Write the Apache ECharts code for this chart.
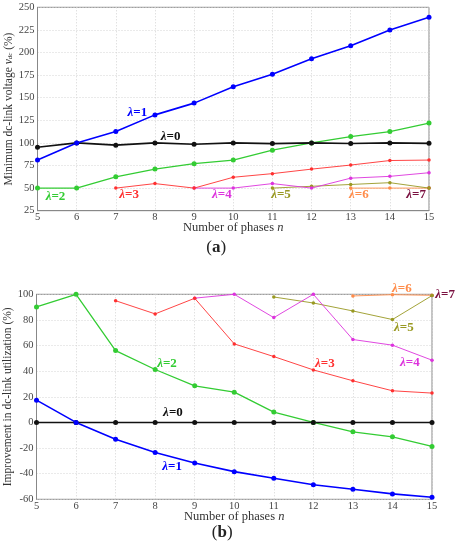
<!DOCTYPE html>
<html><head><meta charset="utf-8">
<script src="https://cdn.jsdelivr.net/npm/echarts/dist/echarts.min.js"></script>
<style>html,body{margin:0;padding:0;background:#fff}#c{width:460px;height:550px}</style>
</head><body><div id="c"></div>
<script>
// ---- data ----
const phases = [5, 6, 7, 8, 9, 10, 11, 12, 13, 14, 15];
const lambdas = ['0', '1', '2', '3', '4', '5', '6', '7'];
// (a) Minimum dc-link voltage (%)
const vdc0 = [95.1, 100, 97.5, 100, 98.5, 100, 99.2, 100, 99.4, 100, 99.5];
const vdc1 = [81, 100, 112.5, 131, 144, 162, 176, 193, 207.5, 225, 239];
const vdc2 = [50, 50, 62.5, 71, 77, 81, 92, 100, 107, 112.5, 122];
const vdc3 = [null, null, 50, 55, 50, 62, 66, 71, 75.5, 80.5, 81];
const vdc4 = [null, null, null, null, 50, 50, 55, 50, 61, 63, 67];
const vdc5 = [null, null, null, null, null, null, 50, 52, 54, 56, 50];
const vdc6 = [null, null, null, null, null, null, null, null, 50, 50, 50];
const vdc7 = [null, null, null, null, null, null, null, null, null, null, 50];
// (b) Improvement in dc-link utilization (%)
const imp0 = [0, 0, 0, 0, 0, 0, 0, 0, 0, 0, 0];
const imp1 = [17.4, 0, -13.2, -23.4, -31.7, -38.4, -43.6, -48.6, -52.2, -55.8, -58.4];
const imp2 = [90.1, 100, 56.1, 41.3, 28.6, 23.6, 8.1, 0, -7.3, -11.2, -18.7];
const imp3 = [null, null, 95, 84.7, 96.9, 61.3, 51.4, 41, 32.5, 24.7, 22.9];
const imp4 = [null, null, null, null, 97, 100, 81.8, 100, 64.7, 60.3, 48.6];
const imp5 = [null, null, null, null, null, null, 97.9, 93.2, 87, 80.3, 99];
const imp6 = [null, null, null, null, null, null, null, null, 98.7, 99.7, 99.2];
const imp7 = [null, null, null, null, null, null, null, null, null, null, 99];
const yTicksA = [25, 50, 75, 100, 125, 150, 175, 200, 225, 250];
const yTicksB = [-60, -40, -20, 0, 20, 40, 60, 80, 100];

// ---- styles ----
const FONT = 'Liberation Serif';
const colors = ['#111111', '#0000ff', '#33cc33', '#ff3030', '#dd33dd', '#999922', '#ff8c4a', '#7a1040'];
const widths = [1.6, 1.6, 1.3, 0.9, 0.9, 0.9, 0.9, 0.9];
const sizes = [5, 5, 5, 3.5, 3.5, 3.5, 3.5, 3.5];
const setsA = [vdc0, vdc1, vdc2, vdc3, vdc4, vdc5, vdc6, vdc7];
const setsB = [imp0, imp1, imp2, imp3, imp4, imp5, imp6, imp7];

function pairs(arr) { return phases.map((n, i) => [n, arr[i]]).filter(p => p[1] !== null); }

const drawOrder = [7, 6, 5, 4, 3, 2, 0, 1];
const series = [];
[setsA, setsB].forEach((sets, gi) => {
  drawOrder.forEach(k => {
    series.push({
      type: 'line', xAxisIndex: gi, yAxisIndex: gi, data: pairs(sets[k]),
      symbol: 'circle', symbolSize: sizes[k], showSymbol: true,
      lineStyle: { color: colors[k], width: widths[k] },
      itemStyle: { color: colors[k] }, silent: true, z: 3
    });
  });
});

const axisLabel = { color: '#444', fontFamily: FONT, fontSize: 10.5, margin: 3 };
const xAxisLabel = Object.assign({}, axisLabel, { margin: 1 });
const splitLine = { show: true, lineStyle: { color: '#d4d4d4', type: [1, 2], width: 1 } };
const axisLine = { show: true, lineStyle: { color: '#888', width: 1 } };
function nameStyle(fs) {
  return { color: '#333', fontFamily: FONT, fontSize: fs,
    rich: { i: { fontStyle: 'italic', fontFamily: FONT, fontSize: fs, color: '#333' },
            s: { fontStyle: 'italic', fontFamily: FONT, fontSize: fs * 0.6, color: '#333', padding: [4, 0, 0, 0] } } };
}

function xAxis(gi) {
  return { type: 'value', gridIndex: gi, min: 5, max: 15, interval: 1,
    name: 'Number of phases {i|n}', nameLocation: 'middle', nameGap: 10.5, nameMoveOverlap: false,
    nameTextStyle: nameStyle(12.5),
    axisLine, axisTick: { show: false }, axisLabel: xAxisLabel, splitLine };
}

const option = {
  animation: false,
  backgroundColor: '#fff',
  grid: [
    { left: 37.5, right: 31, top: 7.3, height: 203.4, show: true, borderColor: '#888', borderWidth: 1,
      containLabel: false, outerBoundsMode: 'none' },
    { left: 36.5, right: 28, top: 294.3, height: 205, show: true, borderColor: '#888', borderWidth: 1,
      containLabel: false, outerBoundsMode: 'none' }
  ],
  xAxis: [xAxis(0), xAxis(1)],
  yAxis: [
    { type: 'value', gridIndex: 0, min: yTicksA[0], max: yTicksA[yTicksA.length - 1], interval: 25,
      name: 'Minimum dc-link voltage {i|v}{s|dc} (%)', nameLocation: 'middle', nameGap: 23, nameMoveOverlap: false,
      nameTextStyle: nameStyle(11.5), axisLine, axisTick: { show: false }, axisLabel, splitLine },
    { type: 'value', gridIndex: 1, min: yTicksB[0], max: yTicksB[yTicksB.length - 1], interval: 20,
      name: 'Improvement in dc-link utilization (%)', nameLocation: 'middle', nameGap: 23, nameMoveOverlap: false,
      nameTextStyle: nameStyle(11.5), axisLine, axisTick: { show: false }, axisLabel, splitLine }
  ],
  series
};

const chart = echarts.init(document.getElementById('c'), null, { renderer: 'canvas' });
chart.setOption(option);

// ---- annotations placed in data coordinates ----
const annA = [[1, 7.55, 134], [0, 8.4, 106.5], [2, 5.46, 40.2], [3, 7.34, 42.4], [4, 9.71, 42.4], [5, 11.22, 42.4], [6, 13.21, 42.4], [7, 14.67, 42.4]];
const annB = [[6, 14.24, 104.7], [7, 15.33, 100], [5, 14.29, 74.3], [4, 14.44, 47], [3, 12.29, 45.5], [2, 8.3, 45.5], [0, 8.45, 7.3], [1, 8.43, -34.8]];
const graphics = [];
[annA, annB].forEach((ann, gi) => {
  ann.forEach(a => {
    const k = a[0];
    const p = chart.convertToPixel({ gridIndex: gi }, [a[1], a[2]]);
    graphics.push({ type: 'text', x: p[0], y: p[1], z: 10,
      style: { text: '{l|λ}{r|=' + lambdas[k] + '}', align: 'center', verticalAlign: 'middle',
        rich: { l: { fontFamily: FONT, fontStyle: 'italic', fontWeight: 'bold', fontSize: 13, fill: colors[k], color: colors[k] },
                r: { fontFamily: FONT, fontWeight: 'bold', fontSize: 13, fill: colors[k], color: colors[k] } } } });
  });
});
const capA = chart.convertToPixel({ gridIndex: 0 }, [10, 25]);
const capB = chart.convertToPixel({ gridIndex: 1 }, [10, -60]);
[['a', capA, -17, 37], ['b', capB, -12, 33]].forEach(c => {
  graphics.push({ type: 'text', x: c[1][0] + c[2], y: c[1][1] + c[3], z: 10,
    style: { text: '({b|' + c[0] + '})', align: 'center', verticalAlign: 'middle',
      fontFamily: FONT, fontSize: 17, fill: '#222',
      rich: { b: { fontFamily: FONT, fontWeight: 'bold', fontSize: 17, fill: '#222', color: '#222' } } } });
});
chart.setOption({ graphic: graphics });
</script></body></html>
